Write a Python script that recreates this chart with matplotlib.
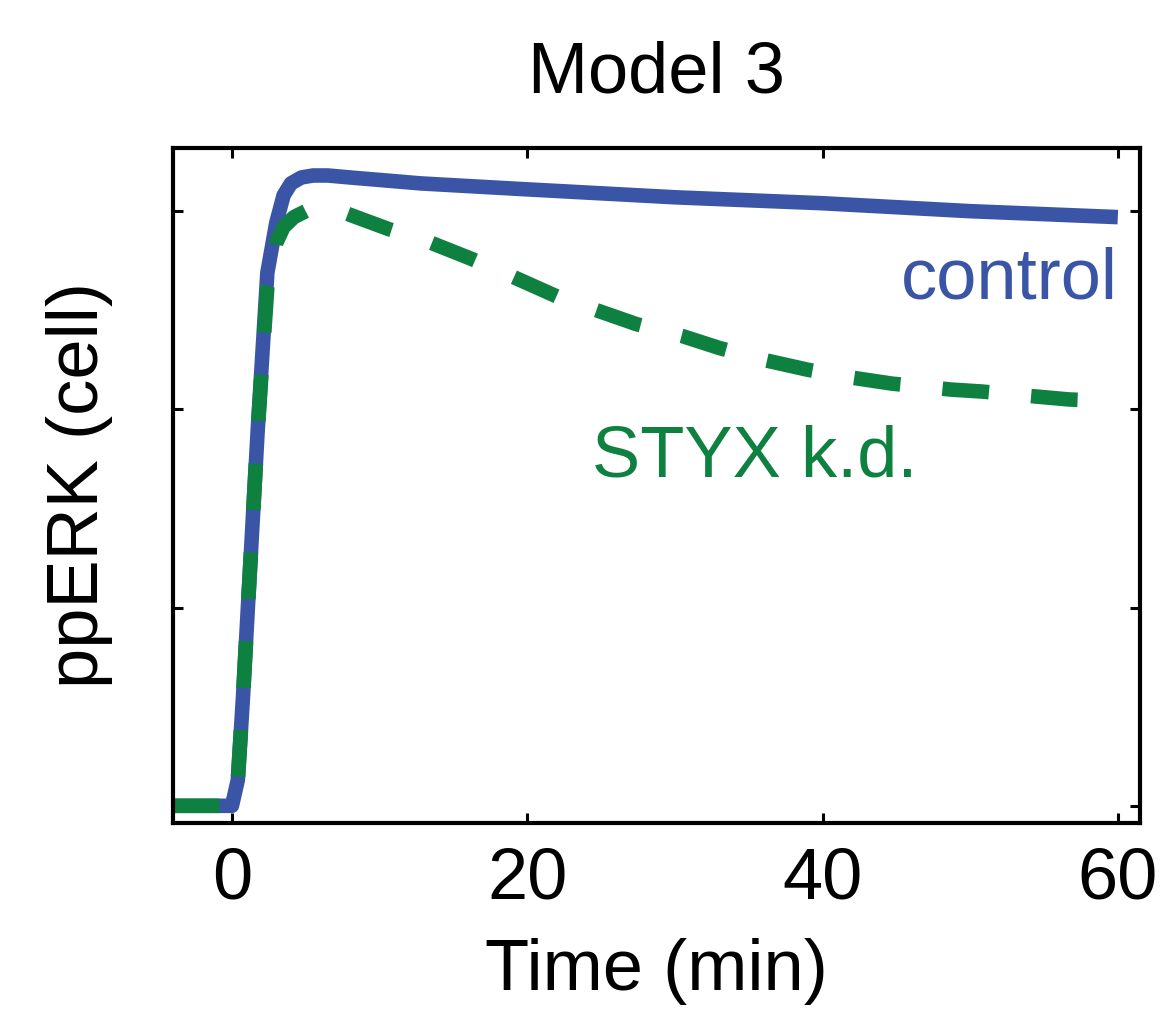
import numpy as np
import matplotlib
matplotlib.use("Agg")
import matplotlib.pyplot as plt

plt.rcParams['font.family'] = ['Liberation Sans', 'DejaVu Sans']

# time (min) and simulated ppERK
t_control = [-4, 0, 0.4, 0.75, 1.08, 1.75, 2.4, 3.0, 3.5, 4.0, 4.7, 5.5, 6.5, 8, 12.8, 20, 30, 40, 50, 60]
control = [0, 0, 0.13, 0.55, 1.0, 1.9, 2.69, 2.94, 3.08, 3.14, 3.17, 3.18, 3.18, 3.17, 3.14, 3.11, 3.07, 3.04, 3.0, 2.97]

t_styx = [-4, 0, 0.4, 0.75, 1.08, 1.75, 2.4, 3.0, 3.5, 4.2, 5.0, 6.0, 7.7, 10.6, 13.5, 16.2, 19, 22, 24.7, 27.4,
          30.5, 33, 36, 39, 42, 44.7, 48.7, 50.8, 53.7, 56.7, 60]
styx = [0, 0, 0.13, 0.55, 1.0, 1.9, 2.62, 2.84, 2.92, 2.97, 3.0, 3.0, 2.99, 2.91, 2.84, 2.76, 2.67, 2.57, 2.5, 2.43,
        2.37, 2.31, 2.25, 2.2, 2.16, 2.13, 2.1, 2.09, 2.07, 2.05, 2.04]

blue = '#3a55a5'
green = '#0e8140'

fig = plt.figure(figsize=(11.68, 10.26), dpi=100)
ax = fig.add_axes([0.148, 0.198, 0.828, 0.658])

ax.plot(t_control, control, color=blue, lw=10.5, solid_capstyle='butt', solid_joinstyle='round')
ln, = ax.plot(t_styx, styx, color=green, lw=10.5, dash_capstyle='butt')
ln.set_dashes((3.2, 2.9))

ax.set_xlim(-4, 61.5)
ax.set_ylim(-0.086, 3.32)
ax.set_xticks([0, 20, 40, 60])
ax.set_yticks([0, 1, 2, 3])
ax.set_yticklabels([])
ax.tick_params(direction='in', length=7, width=2.2, top=True, right=True,
               labelsize=52, pad=17)
for s in ax.spines.values():
    s.set_linewidth(3)

ax.text(60, 2.56, 'control', color=blue, fontsize=52, ha='right', va='baseline')
ax.text(24.4, 1.66, 'STYX k.d.', color=green, fontsize=52, ha='left', va='baseline')

ax.set_title('Model 3', fontsize=52, pad=40)
ax.set_xlabel('Time (min)', fontsize=52, labelpad=18)
ax.set_ylabel('ppERK (cell)', fontsize=52, labelpad=26)

fig.savefig('out.png', dpi=100)
